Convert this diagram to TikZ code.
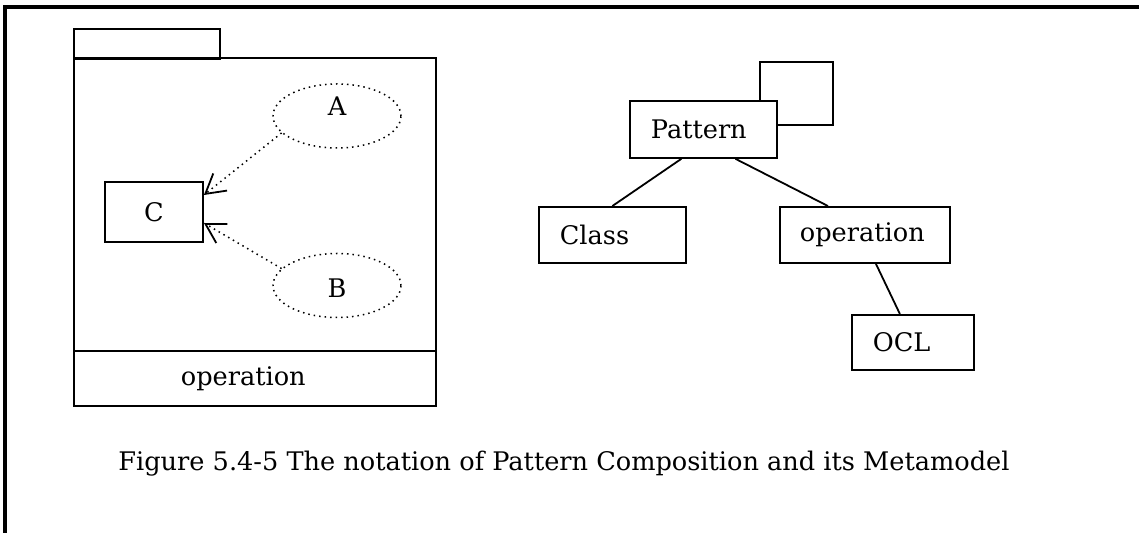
\documentclass[tikz,border=0pt]{standalone}
\usepackage{fontspec}
\setmainfont{DejaVu Serif}
\usepackage{tikz}
\usetikzlibrary{positioning,shapes.geometric,arrows.meta}

\tikzset{
  box/.style={draw, line width=0.9pt, inner ysep=0pt, align=left},
  usecase/.style={draw, ellipse, dotted, line width=0.75pt, minimum width=64pt, minimum height=32pt, inner sep=0pt},
  depend/.style={dotted, line width=0.75pt, -{Straight Barb[length=9.5pt, width=11pt, line width=0.9pt]}},
  assoc/.style={line width=0.9pt}
}

\begin{document}
\begin{tikzpicture}[x=0.5pt, y=-0.5pt, font=\fontsize{12.8}{15}\selectfont]
  \useasboundingbox (0,0) rectangle (1139,533);
  \draw[line width=1.6pt] (5,533) |- (1139,7);

  \node [box, anchor=north west, minimum width=73pt, minimum height=15pt] (tab) at (73,28) {};
  \node [box, anchor=north west, minimum width=181pt, minimum height=146.5pt] (body) at (73,57) {};
  \node [box, anchor=north west, inner xsep=53.5pt, text width=74pt, minimum height=27.5pt] (ops) at (73,350) {operation};

  \node [box, align=center, minimum width=49pt, minimum height=30pt] (C) at (154,212) {C};
  \node [usecase, text depth=10pt] (A) at (337,116) {A};
  \node [usecase, text height=12.3pt, below=52pt of A] (B) {B};

  \draw [depend] (A.197) -- ([yshift=8.5pt]C.east);
  \draw [depend] (B.163) -- ([yshift=-5.5pt]C.east);

  \node [box, anchor=north west, inner xsep=10.5pt, text width=52.5pt, minimum height=28.5pt] (Pattern) at (629,100) {Pattern};
  \node [box, anchor=north west, inner xsep=10.5pt, text width=52.5pt, minimum height=28pt] (Class) at (538,206) {Class};
  \node [box, anchor=north west, inner xsep=10pt, text width=65pt, minimum height=28pt] (operation) at (779,206) {operation};
  \node [box, anchor=north west, inner xsep=10.5pt, text width=40pt, minimum height=27.5pt] (OCL) at (851,314) {OCL};
  \coordinate (loop) at (833,62);

  \draw [assoc] ([xshift=-9pt]Pattern.north east) |- (loop) |- ([yshift=2pt]Pattern.east);
  \draw [assoc] ([xshift=-11pt]Pattern.south) -- (Class.north);
  \draw [assoc] ([xshift=16pt]Pattern.south) -- ([xshift=-18.5pt]operation.north);
  \draw [assoc] ([xshift=5.5pt]operation.south) -- ([xshift=-6.5pt]OCL.north);

  \node [anchor=base west, inner sep=0pt] (caption) at (118,471) {Figure 5.4-5 The notation of Pattern Composition and its Metamodel};
\end{tikzpicture}
\end{document}
